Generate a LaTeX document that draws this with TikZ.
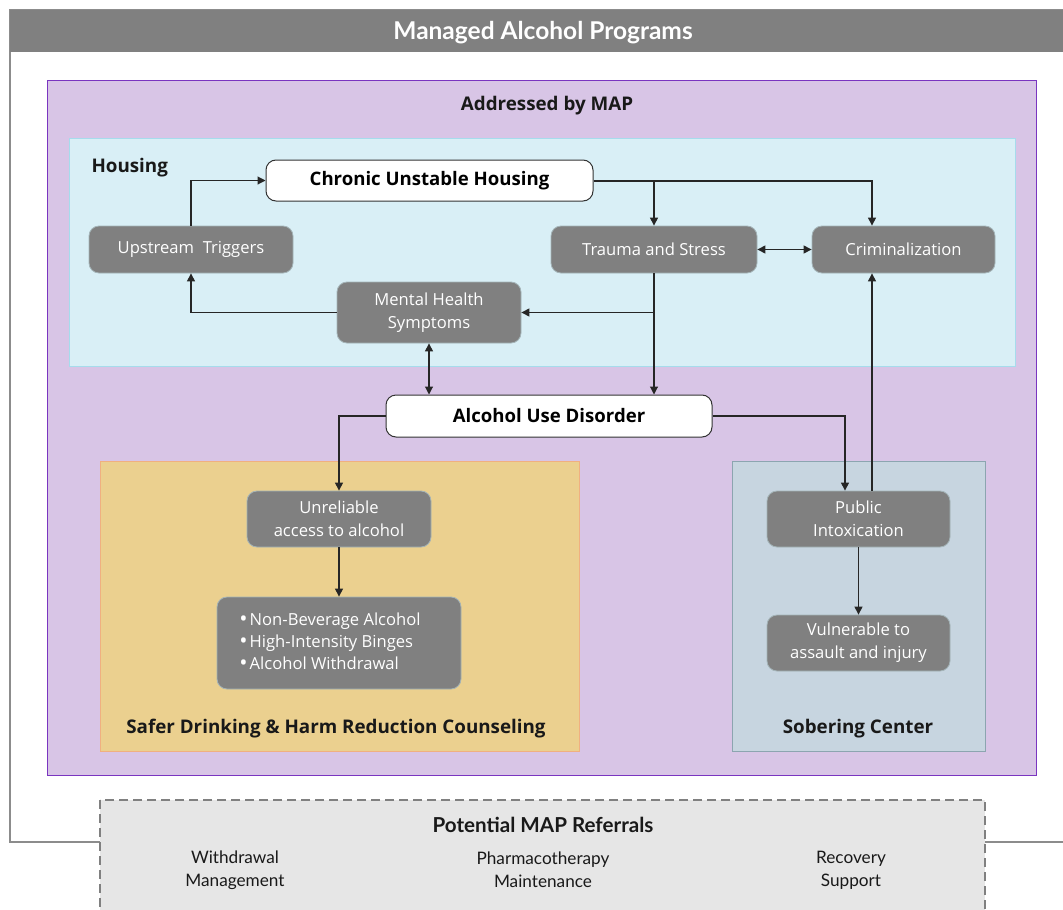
\documentclass[tikz,border=0pt]{standalone}
\usepackage{fontspec}
\setmainfont{Open Sans}
\newfontfamily\latofont{Lato}
\usetikzlibrary{arrows.meta,calc}
\definecolor{hdrgray}{HTML}{808080}
\definecolor{framegray}{HTML}{8C8C8C}
\definecolor{mapfill}{HTML}{D8C5E6}
\definecolor{mapdraw}{HTML}{7A35C0}
\definecolor{housefill}{HTML}{D9EFF6}
\definecolor{housedraw}{HTML}{A6DCEC}
\definecolor{saferfill}{HTML}{EBD08F}
\definecolor{saferdraw}{HTML}{F0B080}
\definecolor{soberfill}{HTML}{C7D5E0}
\definecolor{soberdraw}{HTML}{8CA5B0}
\definecolor{nodegray}{HTML}{808080}
\definecolor{nodeedge}{HTML}{A4B4B8}
\definecolor{reffill}{HTML}{E6E6E6}
\newcommand{\bul}{{\fontsize{22}{10}\selectfont\raisebox{-1.2pt}{\textbullet}}\hspace{2pt}}
\begin{document}
\begin{tikzpicture}[x=1pt,y=-1pt,
  graybox/.style={draw=nodeedge,line width=0.8pt,fill=nodegray,rounded corners=10pt,text=white,
    inner sep=0pt,align=center,font=\fontsize{16.6}{23}\selectfont},
  whitebox/.style={draw=black!80,line width=1pt,fill=white,rounded corners=10pt,text=black,
    inner sep=0pt,align=center,font=\fontsize{18.6}{22}\selectfont\bfseries},
  region/.style={line width=1pt},
  rlabel/.style={font=\fontsize{18.8}{22}\selectfont\bfseries,text=black!90},
  conn/.style={line width=1.1pt,draw=black!85,-{Triangle[length=8pt,width=8pt]}},
  dconn/.style={line width=1.1pt,draw=black!85,{Triangle[length=8pt,width=8pt]}-{Triangle[length=8pt,width=8pt]}},
  reftext/.style={font=\latofont\fontsize{17.2}{23}\selectfont,align=center,text=black!90}
]
\useasboundingbox (0,0) rectangle (1063,910);
\clip (0,0) rectangle (1063,910);
% outer frame
\draw[framegray,line width=1.5pt] (10,10) rectangle (1076,842);
\fill[hdrgray] (10,10) rectangle (1076,52);
\node[font=\latofont\bfseries\fontsize{24.5}{26}\selectfont,text=white] (title) at (543,33) {Managed Alcohol Programs};
% MAP region
\draw[region,draw=mapdraw,fill=mapfill] (47,80) rectangle (1036,775);
\node[rlabel] (maplabel) at (547,106) {Addressed by MAP};
% Housing
\draw[region,draw=housedraw,fill=housefill] (69,138) rectangle (1015,366);
\node[rlabel,anchor=west] (houselabel) at (88,168) {Housing};
% Safer drinking
\draw[region,draw=saferdraw,fill=saferfill] (100,461) rectangle (579,751);
\node[rlabel] (saferlabel) at (336,729) {Safer Drinking \& Harm Reduction Counseling};
% Sobering
\draw[region,draw=soberdraw,fill=soberfill] (732,461) rectangle (985,751);
\node[rlabel] (soberlabel) at (858,729) {Sobering Center};
% Referrals
\draw[dashed,dash pattern=on 9pt off 5pt,draw=hdrgray,line width=1.3pt,fill=reffill] (100,800) rectangle (985,930);
\node[font=\latofont\bfseries\fontsize{20.6}{24}\selectfont,text=black!90] (reflabel) at (543,825) {Potential MAP Referrals};
\node[reftext] (ref1) at (235,870) {Withdrawal\\Management};
\node[reftext] (ref2) at (543,870) {Pharmacotherapy\\Maintenance};
\node[reftext] (ref3) at (851,870) {Recovery\\Support};
% nodes
\node[whitebox,minimum width=327pt,minimum height=41pt] (chronic) at (429.5,180.5) {Chronic Unstable Housing};
\node[graybox,minimum width=204pt,minimum height=47pt] (upstream) at (191,249.5) {Upstream\ \ Triggers};
\node[graybox,minimum width=206pt,minimum height=47pt] (trauma) at (654,249.5) {Trauma and Stress};
\node[graybox,minimum width=183pt,minimum height=47pt] (crim) at (903.5,249.5) {Criminalization};
\node[graybox,minimum width=184pt,minimum height=61pt] (mental) at (429,312.5) {Mental Health\\Symptoms};
\node[whitebox,minimum width=326pt,minimum height=42pt] (aud) at (549,416) {Alcohol Use Disorder};
\node[graybox,minimum width=184pt,minimum height=56pt] (unrel) at (339,519) {Unreliable\\access to alcohol};
\node[graybox,minimum width=244pt,minimum height=92pt] (bullets) at (339,643)
  {\begin{tabular}{@{}l@{}}\bul Non-Beverage Alcohol\\[-1pt]\bul High-Intensity Binges\\[-1pt]\bul Alcohol Withdrawal\end{tabular}\hspace*{18pt}};
\node[graybox,minimum width=183pt,minimum height=56pt] (pubintox) at (858.5,519) {Public\\Intoxication};
\node[graybox,minimum width=183pt,minimum height=56pt] (vulner) at (858.5,643) {Vulnerable to\\assault and injury};
% connectors
\coordinate (ubend) at (upstream.north |- chronic.west);
\draw[conn] (upstream.north) -- (ubend) -- (chronic.west);
\coordinate (cbend) at (872,181);
\draw[conn] (chronic.east |- cbend) -- (cbend) -- (crim.north -| cbend);
\coordinate (tsplit) at (trauma.north |- cbend);
\draw[conn] (tsplit) -- (trauma.north);
\draw[dconn] (trauma.east) -- (crim.west);
\draw[conn] (trauma.south) -- (aud.north -| trauma.south);
\coordinate (msplit) at (trauma.south |- mental.east);
\draw[conn] (msplit) -- (mental.east);
\coordinate (mbend) at (upstream.south |- mental.west);
\draw[conn] (mental.west) -- (mbend) -- (upstream.south);
\draw[dconn] (mental.south) -- (aud.north -| mental.south);
\coordinate (abendl) at (unrel.north |- aud.west);
\draw[conn] (aud.west) -- (abendl) -- (unrel.north);
\coordinate (abendr) at (845,416);
\draw[conn] (aud.east) -- (abendr) -- (pubintox.north -| abendr);
\draw[conn] (pubintox.north -| cbend) -- (crim.south -| cbend);
\draw[conn] (unrel.south) -- (bullets.north);
\draw[conn] (pubintox.south) -- (vulner.north);
\end{tikzpicture}
\end{document}
